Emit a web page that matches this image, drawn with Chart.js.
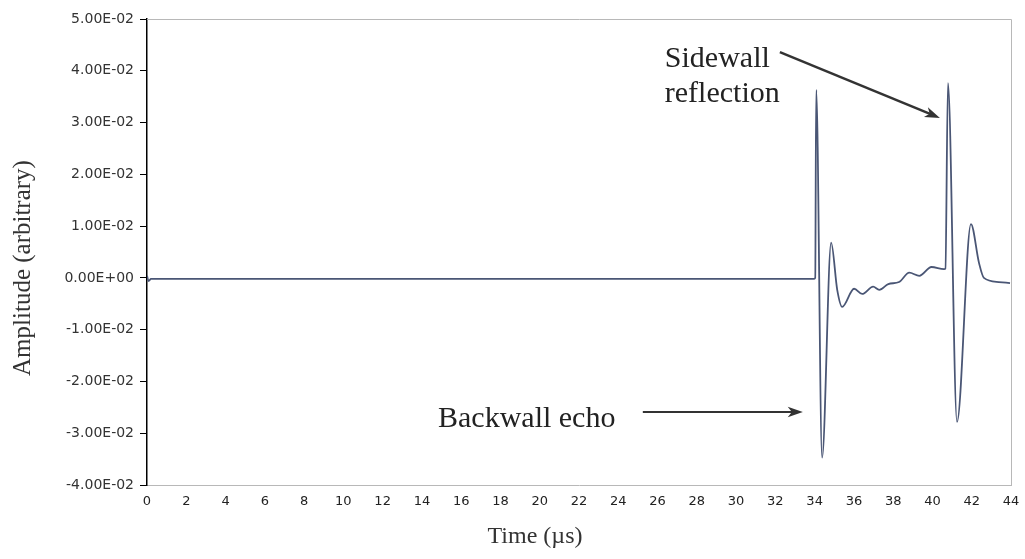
<!DOCTYPE html>
<html>
<head>
<meta charset="utf-8">
<script src="https://cdn.jsdelivr.net/npm/chart.js@4"></script>
<style>
  body { margin: 0; background: #fff; }
  #wrap { width: 1025px; height: 559px; }
</style>
</head>
<body>
<div id="wrap"><canvas id="signalChart"></canvas></div>
<script>
// time in microseconds
const times = [
    0, 0.08, 0.2, 33.95, 34.03, 34.08, 34.38, 34.84, 35.15, 35.40,
    36.01, 36.42, 36.98, 37.29, 37.75, 38.30, 38.82, 39.33, 39.95,
    40.59, 40.66, 40.79, 41.25, 41.96, 42.37, 42.62, 43.38, 43.95
];
// amplitude (arbitrary)
const amplitude = [
    0.0004, -0.0006, -0.0002, -0.0002, 0.0000, 0.0363, -0.0347, 0.0068, -0.0023, -0.0056,
    -0.0021, -0.0031, -0.0017, -0.0023, -0.0012, -0.0008, 0.0010, 0.0004, 0.0021,
    0.0017, 0.0018, 0.0376, -0.0278, 0.0104, 0.0029, 0.0000, -0.0008, -0.0010
];
const yMin = -0.04, yMax = 0.05, yStep = 0.01;
const xMin = 0, xMax = 44, xStep = 2;

// "5.00E-02" style labels
function sci(v) {
    if (Math.abs(v) < 1e-12) return "0.00E+00";
    let [m, e] = v.toExponential(2).split("e");
    let n = parseInt(e);
    return m + "E" + (n < 0 ? "-" : "+") + String(Math.abs(n)).padStart(2, "0");
}

function arrow(ctx, x1, y1, x2, y2) {
    let a = Math.atan2(y2 - y1, x2 - x1);
    ctx.beginPath();
    ctx.moveTo(x1, y1);
    ctx.lineTo(x2 - 10 * Math.cos(a), y2 - 10 * Math.sin(a));
    ctx.stroke();
    ctx.beginPath();
    ctx.moveTo(x2, y2);
    ctx.lineTo(x2 - 16 * Math.cos(a - 0.33), y2 - 16 * Math.sin(a - 0.33));
    ctx.lineTo(x2 - 11 * Math.cos(a), y2 - 11 * Math.sin(a));
    ctx.lineTo(x2 - 16 * Math.cos(a + 0.33), y2 - 16 * Math.sin(a + 0.33));
    ctx.closePath();
    ctx.fill();
}

// frame, axis titles and the two callouts
const decor = {
    id: "decor",
    afterDraw(chart) {
        const { ctx, chartArea: a, scales: { x, y } } = chart;
        ctx.save();
        // light frame on top and right
        ctx.strokeStyle = "#b8b8b8";
        ctx.lineWidth = 1;
        ctx.beginPath();
        ctx.moveTo(a.left, a.top + 0.5);
        ctx.lineTo(a.right + 0.5, a.top + 0.5);
        ctx.lineTo(a.right + 0.5, a.bottom);
        ctx.stroke();

        ctx.fillStyle = "#333";
        ctx.font = "24px 'Liberation Serif'";
        ctx.textAlign = "center";
        ctx.textBaseline = "alphabetic";
        ctx.fillText("Time (\u00b5s)", 535, 543);
        ctx.save();
        ctx.translate(30, 268);
        ctx.rotate(-Math.PI / 2);
        ctx.font = "25px 'Liberation Serif'";
        ctx.fillText("Amplitude (arbitrary)", 0, 0);
        ctx.restore();

        ctx.fillStyle = "#222";
        ctx.font = "30px 'Liberation Serif'";
        ctx.textAlign = "left";
        ctx.fillText("Sidewall", x.getPixelForValue(26.37), y.getPixelForValue(0.0407));
        ctx.fillText("reflection", x.getPixelForValue(26.37), y.getPixelForValue(0.0340));
        ctx.fillText("Backwall echo", x.getPixelForValue(14.82), y.getPixelForValue(-0.0288));

        ctx.strokeStyle = "#333";
        ctx.fillStyle = "#333";
        ctx.lineWidth = 2.5;
        arrow(ctx, x.getPixelForValue(32.23), y.getPixelForValue(0.0436),
            x.getPixelForValue(40.38), y.getPixelForValue(0.0309));
        ctx.lineWidth = 2;
        arrow(ctx, x.getPixelForValue(25.25), y.getPixelForValue(-0.0259),
            x.getPixelForValue(33.40), y.getPixelForValue(-0.0259));
        ctx.restore();
    },
};

let signalCtx = document.getElementById("signalChart").getContext("2d");

let signalChart = new Chart(signalCtx, {
    type: "line",
    data: {
        datasets: [
            {
                label: "Amplitude",
                data: times.map((t, i) => ({ x: t, y: amplitude[i] })),
                borderColor: "#4a5675",
                borderWidth: 1.8,
                pointRadius: 0,
                fill: false,
                cubicInterpolationMode: "monotone",
            },
        ],
    },
    plugins: [decor],
    options: {
        maintainAspectRatio: false,
        responsive: true,
        animation: false,
        layout: {
            padding: { top: 19, right: 14, bottom: 0, left: 0 },
        },
        plugins: {
            legend: { display: false },
            tooltip: { enabled: false },
        },
        scales: {
            x: {
                type: "linear",
                min: xMin,
                max: xMax,
                afterFit(scale) {
                    scale.height = 74;
                    scale.paddingLeft = 0;
                    scale.paddingRight = 0;
                },
                grid: {
                    drawOnChartArea: false,
                    drawTicks: false,
                },
                border: { color: "#b8b8b8", width: 1 },
                ticks: {
                    stepSize: xStep,
                    padding: 9,
                    maxRotation: 0,
                    autoSkip: false,
                    color: "#222",
                    font: { family: "'DejaVu Sans'", size: 13 },
                },
            },
            y: {
                min: yMin,
                max: yMax,
                afterFit(scale) {
                    scale.width = 147;
                },
                grid: {
                    drawOnChartArea: false,
                    drawTicks: true,
                    tickLength: 7,
                    color: "#000",
                },
                border: { color: "#000", width: 1.5 },
                ticks: {
                    stepSize: yStep,
                    padding: 6,
                    color: "#333",
                    font: { family: "'DejaVu Sans'", size: 14 },
                    callback: (v) => sci(v),
                },
            },
        },
    },
});
</script>
</body>
</html>
